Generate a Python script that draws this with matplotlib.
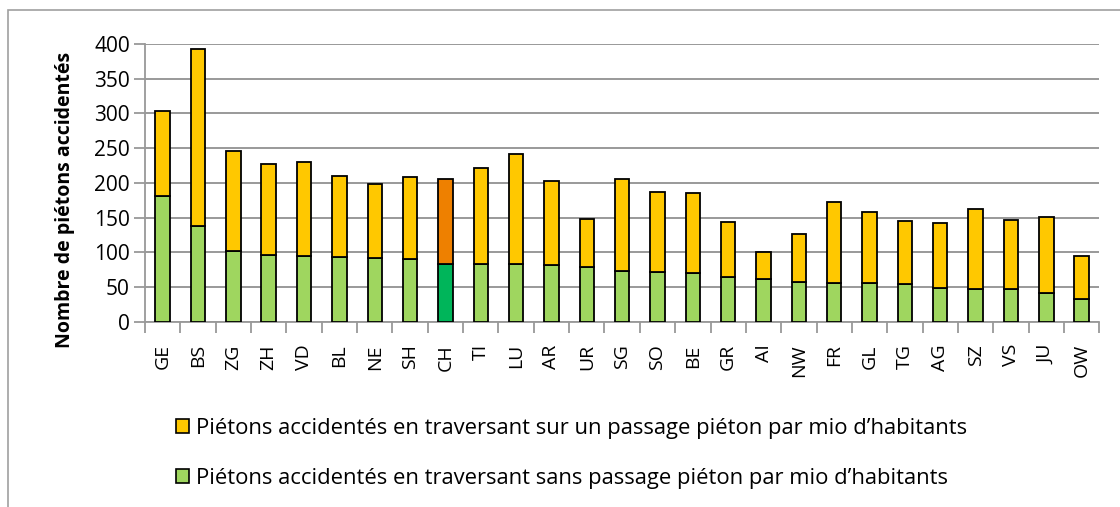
import matplotlib.pyplot as plt
from matplotlib.patches import Rectangle
from matplotlib.ticker import FixedLocator

plt.rcParams['font.family'] = ['Open Sans', 'DejaVu Sans']

cantons = ['GE', 'BS', 'ZG', 'ZH', 'VD', 'BL', 'NE', 'SH', 'CH', 'TI', 'LU', 'AR', 'UR', 'SG',
           'SO', 'BE', 'GR', 'AI', 'NW', 'FR', 'GL', 'TG', 'AG', 'SZ', 'VS', 'JU', 'OW']
# totals (top of each stacked bar) and the "sans passage" part
totals = [304, 392, 246, 227, 230, 210, 198, 208, 206, 221, 241, 203, 148, 205,
          187, 185, 144, 101, 126, 172, 158, 145, 143, 162, 146, 151, 95]
sans_passage = [181, 138, 102, 97, 95, 93, 92, 90, 83, 84, 83, 82, 79, 73,
                72, 70, 64, 62, 58, 56, 56, 54, 49, 48, 48, 42, 33]
sur_passage = [t - s for t, s in zip(totals, sans_passage)]

lbl_sur = "Piétons accidentés en traversant sur un passage piéton par mio d\u2019habitants"
lbl_sans = "Piétons accidentés en traversant sans passage piéton par mio d\u2019habitants"

yellow, green = '#FFC800', '#9FD65F'
col_sans = ['#00B55A' if c == 'CH' else green for c in cantons]
col_sur = ['#EE8000' if c == 'CH' else yellow for c in cantons]

fig = plt.figure(figsize=(11.2, 5.07), dpi=100)
ax = fig.add_axes([0.1295, 0.365, 0.852, 0.5485])

x = range(len(cantons))
b1 = ax.bar(x, sans_passage, width=0.41, color=col_sans, edgecolor='black', linewidth=1.3, zorder=3)
b2 = ax.bar(x, sur_passage, bottom=sans_passage, width=0.41, color=col_sur, edgecolor='black',
            linewidth=1.3, zorder=3)

ax.set_xlim(-0.5, len(cantons) - 0.5)
ax.set_ylim(0, 400)
ax.set_yticks(range(0, 401, 50))
ax.yaxis.grid(True, color='#999999', linewidth=1.4, zorder=0)
ax.set_axisbelow(True)

for s in ['top', 'right']:
    ax.spines[s].set_visible(False)
for s in ['left', 'bottom']:
    ax.spines[s].set_color('#999999')
    ax.spines[s].set_linewidth(1.3)

ax.set_xticks(list(x))
ax.set_xticklabels(cantons, rotation=90, fontsize=14)
ax.tick_params(axis='x', length=0, pad=16)
ax.xaxis.set_minor_locator(FixedLocator([i - 0.5 for i in range(len(cantons) + 1)]))
ax.tick_params(axis='x', which='minor', length=8, color='#999999', width=1.3)
ax.tick_params(axis='y', length=8, color='#999999', width=1.3, labelsize=15, pad=3)

ax.set_ylabel('Nombre de piétons accidentés', fontsize=14, fontweight='bold')
ax.yaxis.set_label_coords(-0.073, 0.44)

# legend entries stacked, as in the original
leg = fig.legend([b2[0], b1[0]], [lbl_sur, lbl_sans], loc='upper left',
                 bbox_to_anchor=(0.147, 0.197), frameon=False, fontsize=15.8, borderpad=0,
                 handlelength=0.62, handleheight=0.62, handletextpad=0.3, labelspacing=1.3)
for h, c in zip(leg.legend_handles, [yellow, green]):
    h.set_facecolor(c)
    h.set_edgecolor('black')
    h.set_linewidth(1.2)

# outer chart frame (only top and left edges are visible)
fig.patches.append(Rectangle((8, -200), 1300, 697, transform=None, fill=False,
                             edgecolor='#A0A0A0', linewidth=1.2))

fig.savefig('out.png', dpi=100)
